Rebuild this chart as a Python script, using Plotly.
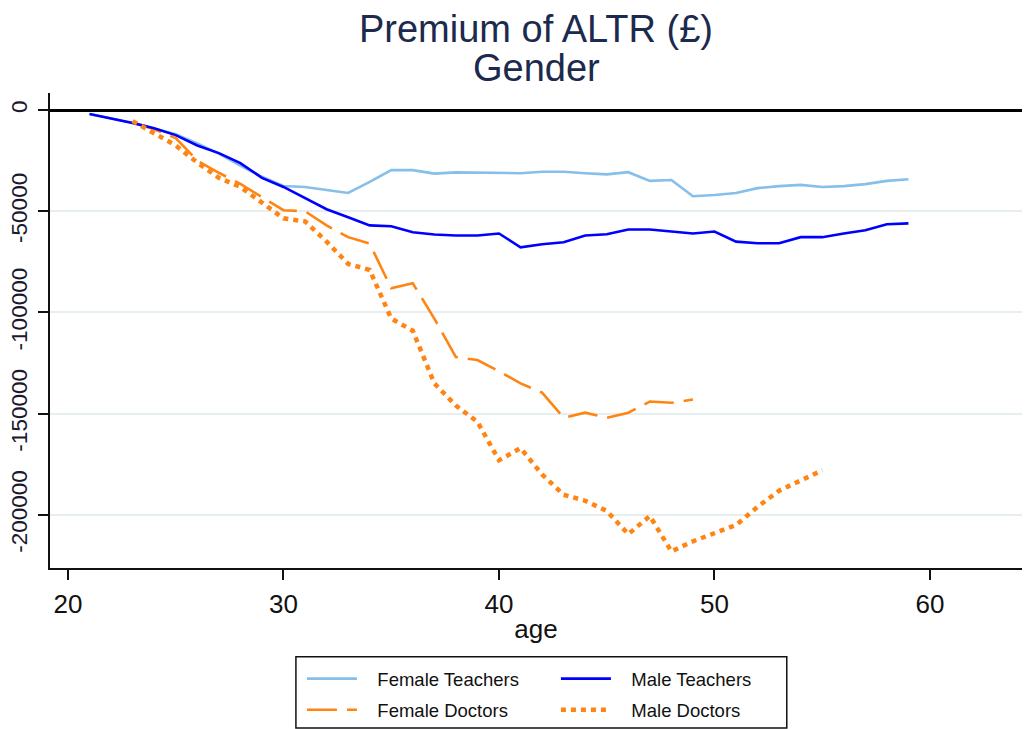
import plotly.graph_objects as go

# ages for each series
age_teachers = list(range(21, 60))
age_female_doctors = list(range(23, 50))
age_male_doctors = list(range(23, 56))

female_teachers = [-2000, -4200, -6400, -9200, -12000, -16500, -21500, -27500, -33000, -37500,
                   -38000, -39500, -41000, -35500, -29700, -29700, -31400, -30800, -31000, -31200,
                   -31200, -30500, -30500, -31200, -31800, -30700, -35000, -34600, -42600, -42000,
                   -41000, -38600, -37600, -37000, -38000, -37600, -36600, -35000, -34200]

male_teachers = [-2000, -4200, -6400, -9000, -12400, -17500, -21300, -26200, -33500, -38000,
                 -43500, -49000, -53000, -57000, -57400, -60400, -61500, -62000, -62000, -61000,
                 -67800, -66300, -65300, -62000, -61400, -59000, -59000, -60000, -61000, -60000,
                 -65000, -65800, -65800, -62800, -62800, -61000, -59400, -56400, -56000]

female_doctors = [-6000, -9500, -13900, -25000, -31000, -36500, -43000, -49500, -50000, -57000,
                  -62800, -66000, -88000, -85600, -103000, -122000, -123500, -129000, -135000,
                  -139600, -152000, -149500, -152000, -149500, -144000, -144600, -143000]

male_doctors = [-5500, -11500, -17500, -26000, -33500, -38000, -45500, -53500, -55000, -65000,
                -76000, -79000, -103000, -109000, -135000, -146000, -154000, -173000, -167000,
                -180000, -190000, -193000, -198000, -209500, -200500, -218000, -213000, -209000,
                -205000, -196000, -188000, -183000, -178000]

x_ticks = [20, 30, 40, 50, 60]
y_ticks = [0, -50000, -100000, -150000, -200000]

ORANGE = "#ff8412"
FONT = "Liberation Sans, Arial"
GAP = "\u00a0\u00a0\u00a0"  # extra space between legend key and label

fig = go.Figure()
fig.add_trace(go.Scatter(x=age_teachers, y=female_teachers, mode="lines", name=GAP + "Female Teachers",
                         line=dict(color="#86bfe9", width=2.6), legend="legend", legendgroup="ft"))
fig.add_trace(go.Scatter(x=age_female_doctors, y=female_doctors, mode="lines", name=GAP + "Female Doctors",
                         line=dict(color=ORANGE, width=2.6, dash="30px,10px"), legend="legend", legendgroup="fd"))
fig.add_trace(go.Scatter(x=age_teachers, y=male_teachers, mode="lines", name=GAP + "Male Teachers",
                         line=dict(color="#0000ff", width=2.6), legend="legend2", legendgroup="mt"))
fig.add_trace(go.Scatter(x=age_male_doctors, y=male_doctors, mode="lines", name=GAP + "Male Doctors",
                         line=dict(color=ORANGE, width=4.5, dash="5px,5px"), legend="legend2", legendgroup="md"))

legend_style = dict(orientation="v", xanchor="left", yanchor="top", y=-0.1939,
                    font=dict(family=FONT, size=18.5, color="#111"),
                    bgcolor="rgba(0,0,0,0)", borderwidth=0, itemwidth=50, tracegroupgap=4,
                    traceorder="grouped")

fig.update_layout(
    width=1025, height=729,
    margin=dict(l=50, r=3, t=93, b=161, autoexpand=False),
    plot_bgcolor="white", paper_bgcolor="white",
    font=dict(family=FONT, color="#111"),
    title=dict(text="Premium of ALTR (£)", x=0.5, xref="paper", xanchor="center",
               y=1 - 29 / 729, yref="container", yanchor="middle",
               font=dict(size=38, color="#1c2a4d")),
    annotations=[dict(text="Gender", x=0.5, xref="paper", xanchor="center",
                      y=(568 - 68) / 475, yref="paper", yanchor="middle", showarrow=False,
                      font=dict(size=38, color="#1c2a4d", family=FONT))],
    legend=dict(x=0.2592, **legend_style),
    legend2=dict(x=0.5205, **legend_style),
    showlegend=True,
    shapes=[dict(type="rect", xref="paper", yref="paper", x0=0.253, x1=0.758, y0=-0.337, y1=-0.187,
                 line=dict(color="#111", width=1.5), fillcolor="rgba(0,0,0,0)")],
)

fig.update_xaxes(range=[19.165, 64.27], tickvals=x_ticks, ticks="outside", ticklen=10, tickwidth=1.5,
                 tickcolor="#111", showline=True, linecolor="#111", linewidth=1.5, showgrid=False,
                 zeroline=False, tickfont=dict(size=26, color="#111"), automargin=False,
                 ticklabelstandoff=2,
                 title=dict(text="age", font=dict(size=26, color="#111"), standoff=2))
fig.update_yaxes(range=[-226200, 8400], tickvals=y_ticks, ticktext=[str(v) for v in y_ticks],
                 tickangle=-90, ticks="outside", ticklen=10, tickwidth=1.5, tickcolor="#111",
                 showline=True, linecolor="#111", linewidth=1.5, showgrid=True, gridcolor="#e6eeef",
                 gridwidth=2, zeroline=True, zerolinecolor="#000", zerolinewidth=3,
                 tickfont=dict(size=22.5, color="#1a1a2e"), ticklabelstandoff=2, automargin=False)

# the page's default body margin would shift the figure by 8px
fig.write_html("out.html", config={"displayModeBar": False},
               post_script="document.body.style.margin='0';")
